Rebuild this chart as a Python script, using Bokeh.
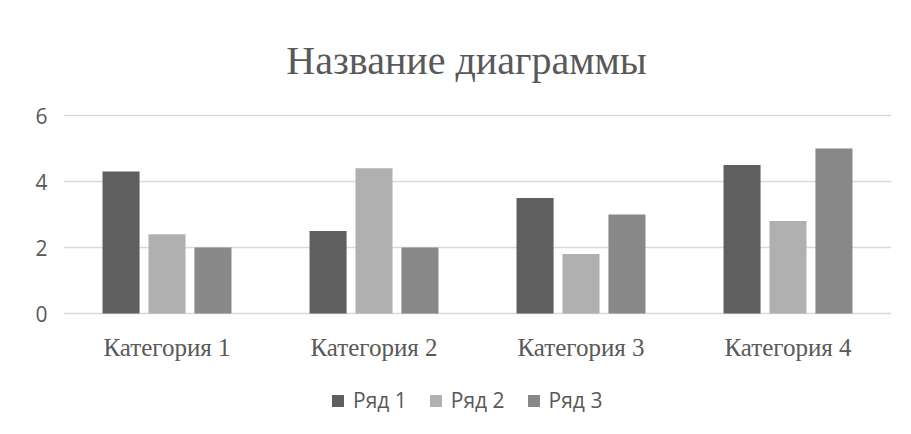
from bokeh.plotting import figure
from bokeh.models import (FactorRange, Range1d, FixedTicker, Legend, LegendItem, Label,
                          ColumnDataSource)
from bokeh.transform import dodge
from bokeh.core.properties import value
from bokeh.embed import file_html
from bokeh.resources import INLINE

categories = ["Категория 1", "Категория 2", "Категория 3", "Категория 4"]
series_names = ["Ряд 1", "Ряд 2", "Ряд 3"]
ser1 = [4.3, 2.5, 3.5, 4.5]
ser2 = [2.4, 4.4, 1.8, 2.8]
ser3 = [2.0, 2.0, 3.0, 5.0]
colors = ["#5f5f5f", "#b0b0b0", "#888888"]
y_ticks = [0, 2, 4, 6]
title_text = "Название диаграммы"

TXT = "#595959"
GRID = "#d9d9d9"
LABEL_Y = -1.03  # layout position of category labels (below the zero line)

src = ColumnDataSource(dict(cat=categories, s1=ser1, s2=ser2, s3=ser3,
                            ly=[LABEL_Y] * len(categories)))

p = figure(x_range=FactorRange(*categories), y_range=Range1d(-3.606, 9.485),
           frame_width=828, frame_height=432, output_backend="svg", toolbar_location=None,
           min_border_left=63, min_border_right=13, min_border_top=0, min_border_bottom=0)
p.outline_line_color = None
p.background_fill_color = "white"
p.border_fill_color = "white"

offsets = [-0.222, 0.0, 0.222]
fields = ["s1", "s2", "s3"]
renderers = []
for off, f, c in zip(offsets, fields, colors):
    r = p.vbar(x=dodge("cat", off, range=p.x_range), top=f, width=0.179, source=src,
               fill_color=c, line_color=None)
    renderers.append(r)

# category labels just below the zero line
p.text(x="cat", y="ly", text="cat", source=src, text_font=value("Liberation Serif"),
       text_font_size="25px", text_color=TXT, text_align="center", text_baseline="middle")

# chart title
p.add_layout(Label(x=403, y=372, x_units="screen", y_units="screen", text=title_text,
                   text_font="Liberation Serif", text_font_size="40px", text_color=TXT,
                   text_align="center", text_baseline="middle"))

p.xgrid.grid_line_color = None
p.xaxis.visible = False
p.ygrid.grid_line_color = GRID
p.ygrid.grid_line_width = 1.3
p.ygrid.ticker = FixedTicker(ticks=y_ticks)
p.yaxis.ticker = FixedTicker(ticks=y_ticks)
p.yaxis.axis_line_color = None
p.yaxis.major_tick_line_color = None
p.yaxis.minor_tick_line_color = None
p.yaxis.major_label_text_font = "Open Sans"
p.yaxis.major_label_text_font_size = "21px"
p.yaxis.major_label_text_color = TXT
p.yaxis.major_label_standoff = 10

legend = Legend(items=[LegendItem(label=n, renderers=[r]) for n, r in zip(series_names, renderers)],
                orientation="horizontal", location=(267, 18),
                label_text_font="Open Sans", label_text_font_size="21px", label_text_color=TXT,
                glyph_width=15, glyph_height=15, spacing=21, label_standoff=8,
                border_line_color=None, background_fill_alpha=0, margin=0, padding=0)
p.add_layout(legend, "center")

open("out.html", "w").write(file_html(p, INLINE))
